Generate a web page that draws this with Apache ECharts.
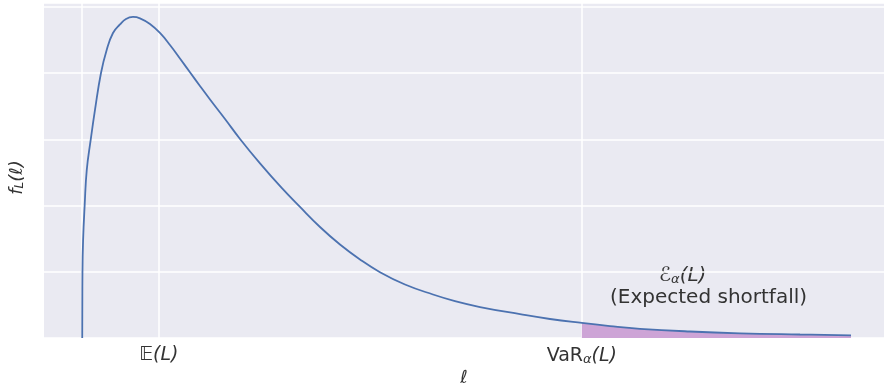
<!DOCTYPE html>
<html><head><meta charset="utf-8">
<script src="https://cdn.jsdelivr.net/npm/echarts@6/dist/echarts.min.js"></script>
<style>html,body{margin:0;padding:0;background:#fff}#c{width:884px;height:390px}</style>
</head><body><div id="c"></div>
<script>
// loss level ℓ (scaled so the curve spans 0..1)
const lossValues = [0.0003, 0.0006, 0.0014, 0.0035, 0.0062, 0.0113, 0.0169, 0.0247, 0.0321, 0.0403, 0.0494, 0.0572, 0.0663, 0.0754, 0.0884, 0.1014, 0.1144, 0.1274, 0.1404, 0.1534, 0.1665, 0.1860, 0.2055, 0.2315, 0.2597, 0.2835, 0.3095, 0.3355, 0.3615, 0.3875, 0.42, 0.4564, 0.4850, 0.5176, 0.5696, 0.6086, 0.65, 0.6866, 0.7256, 0.7906, 0.8557, 0.9337, 1.0];
// density f_L(ℓ)
const densityValues = [0, 0.982, 1.465, 2.009, 2.538, 2.991, 3.444, 4.003, 4.350, 4.607, 4.736, 4.819, 4.849, 4.829, 4.743, 4.607, 4.426, 4.222, 4.014, 3.807, 3.603, 3.308, 3.006, 2.637, 2.266, 1.979, 1.677, 1.412, 1.186, 0.994, 0.808, 0.657, 0.557, 0.468, 0.360, 0.287, 0.227, 0.180, 0.139, 0.098, 0.071, 0.053, 0.041];
const expectedLoss = 0.1008;
const valueAtRisk = 0.65;
const tickPositions = [0, expectedLoss, valueAtRisk];
const tickLabels = ['', '{bb|𝔼}{i|(L)}', '{n|VaR}{s|α}{i|(L)}'];

const curve = lossValues.map((x, i) => [x, densityValues[i]]);
const tail = curve.filter(p => p[0] >= valueAtRisk);

const txt = '#333333';
const FF = '"DejaVu Sans", sans-serif';
const tickRich = {
  bb: {fontFamily: FF, fontSize: 19, color: txt},
  n: {fontFamily: FF, fontSize: 19, color: txt},
  i: {fontFamily: FF, fontSize: 19, fontStyle: 'italic', color: txt},
  s: {fontFamily: FF, fontSize: 13, fontStyle: 'italic', color: txt, verticalAlign: 'bottom', padding: [7, 0, 0, 0]}
};

const chart = echarts.init(document.getElementById('c'), null, {renderer: 'canvas'});
chart.setOption({
  animation: false,
  backgroundColor: '#ffffff',
  grid: {left: 44, right: 0, top: 3, bottom: 52, show: true, backgroundColor: '#EAEAF2', borderWidth: 0, outerBoundsMode: 'none', containLabel: false},
  xAxis: {
    type: 'value', min: -0.0494, max: 1.0429,
    axisLine: {show: false}, axisTick: {show: false}, axisLabel: {show: false}, splitLine: {show: false},
    name: '{i|ℓ}', nameLocation: 'middle', nameGap: 31,
    nameTextStyle: {rich: {i: {fontFamily: FF, fontSize: 18, fontStyle: 'italic', color: txt}}}
  },
  yAxis: {
    type: 'value', min: 0, max: 5.06, interval: 1,
    axisLine: {show: false}, axisTick: {show: false}, axisLabel: {show: false},
    splitLine: {show: true, lineStyle: {color: '#ffffff', width: 1.5}},
    name: '{i|f}{s|L}{i|(ℓ)}', nameLocation: 'middle', nameGap: 18, nameRotate: 90,
    nameTextStyle: {padding: [0, 14, 0, 0], rich: {
      i: {fontFamily: FF, fontSize: 18, fontStyle: 'italic', color: txt},
      s: {fontFamily: FF, fontSize: 12, fontStyle: 'italic', color: txt, verticalAlign: 'bottom', padding: [6, 0, 0, 0]}
    }}
  },
  series: [
    {
      type: 'line', data: tail, z: 2, smooth: 0.45, showSymbol: false, silent: true,
      lineStyle: {width: 0, opacity: 0},
      areaStyle: {color: '#CDA4D6', opacity: 1},
      markLine: {
        z: 1, silent: true, symbol: ['none', 'none'],
        lineStyle: {type: 'solid', color: '#ffffff', width: 1.5},
        label: {position: 'start', distance: 8, rich: tickRich},
        data: tickPositions.map((x, i) => ({xAxis: x, label: {show: tickLabels[i] !== '', formatter: tickLabels[i]}}))
      }
    },
    {
      type: 'line', data: curve, z: 3, smooth: 0.45, showSymbol: false, silent: true,
      lineStyle: {color: '#4C72B0', width: 1.8}
    }
  ],
  graphic: [
    {type: 'text', left: 659, top: 266, style: {text: '{e|ℰ}{s|α}{i|(L)}', rich: {
      e: {fontFamily: FF, fontSize: 20, fontStyle: 'italic', fill: txt},
      i: {fontFamily: FF, fontSize: 20, fontStyle: 'italic', fill: txt},
      s: {fontFamily: FF, fontSize: 13, fontStyle: 'italic', fill: txt, verticalAlign: 'bottom', padding: [7, 0, 0, 0]}
    }}},
    {type: 'text', left: 610, top: 288, style: {text: '(Expected shortfall)', fontFamily: FF, fontSize: 20, fill: txt}}
  ]
});
</script>
</body></html>
